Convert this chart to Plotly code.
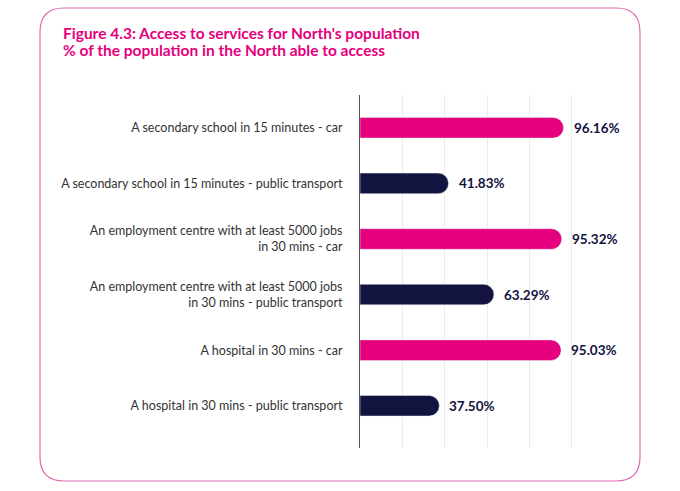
import plotly.graph_objects as go

categories = [
    "A secondary school in 15 minutes - car",
    "A secondary school in 15 minutes - public transport",
    "An employment centre with at least 5000 jobs<br>in 30 mins - car",
    "An employment centre with at least 5000 jobs<br>in 30 mins - public transport",
    "A hospital in 30 mins - car",
    "A hospital in 30 mins - public transport",
]
values = [96.16, 41.83, 95.32, 63.29, 95.03, 37.50]
modes = ["car", "pt", "car", "pt", "car", "pt"]
title_lines = [
    "Figure 4.3: Access to services for North's population",
    "% of the population in the North able to access",
]

PINK = "#E5007D"
NAVY = "#12133F"
colors = [PINK if m == "car" else NAVY for m in modes]

W, H = 680, 491
L, R, T, B = 360, 66, 95, 43
pw, ph = W - L - R, H - T - B

def px2paper(x, y):
    return (x - L) / pw, (H - B - y) / ph

fig = go.Figure(go.Bar(
    y=categories, x=values, orientation="h",
    marker=dict(color=colors, cornerradius=11),
    width=0.37,
    cliponaxis=False,
    hoverinfo="skip",
))

# rounded frame
x0, y0, x1, y1, r = 40, 8, 640, 481, 24
def P(x, y):
    a, b = px2paper(x, y)
    return f"{a:.5f},{b:.5f}"
path = (f"M {P(x0+r,y0)} L {P(x1-r,y0)} Q {P(x1,y0)} {P(x1,y0+r)} "
        f"L {P(x1,y1-r)} Q {P(x1,y1)} {P(x1-r,y1)} "
        f"L {P(x0+r,y1)} Q {P(x0,y1)} {P(x0,y1-r)} "
        f"L {P(x0,y0+r)} Q {P(x0,y0)} {P(x0+r,y0)} Z")

annotations = []
for i, line in enumerate(title_lines):
    ax, ay = px2paper(61, 33 + 17 * i)
    annotations.append(dict(
        text=line, x=ax, y=ay, xref="paper", yref="paper",
        xanchor="left", yanchor="middle", showarrow=False,
        font=dict(family="Lato", size=15.5, color=PINK, weight="bold"),
    ))
for cat, v in zip(categories, values):
    annotations.append(dict(
        text=f"{v:.2f}%", x=v, y=cat, xref="x", yref="y",
        xanchor="left", yanchor="middle", xshift=8, showarrow=False,
        font=dict(family="Lato", size=13.5, color=NAVY, weight="bold"),
    ))

fig.update_layout(
    width=W, height=H,
    margin=dict(l=L, r=R, t=T, b=B),
    plot_bgcolor="white", paper_bgcolor="white",
    showlegend=False,
    shapes=[dict(type="path", path=path, xref="paper", yref="paper",
                 line=dict(color="#E06AB0", width=1.2), layer="below")],
    annotations=annotations,
    xaxis=dict(range=[0, 120], dtick=20, showticklabels=False,
               showgrid=True, gridcolor="#EBEBEB", gridwidth=1,
               zeroline=False, fixedrange=True),
    yaxis=dict(range=[5.76, -0.59], showline=True, linecolor="#555555",
               linewidth=1, showgrid=False, ticks="",
               ticklabelstandoff=14, fixedrange=True,
               tickfont=dict(family="Lato", size=12.5, color="#333333")),
)

fig.write_html("out.html", config={"displayModeBar": False},
               post_script="document.body.style.margin='0';document.body.style.overflow='hidden';")
